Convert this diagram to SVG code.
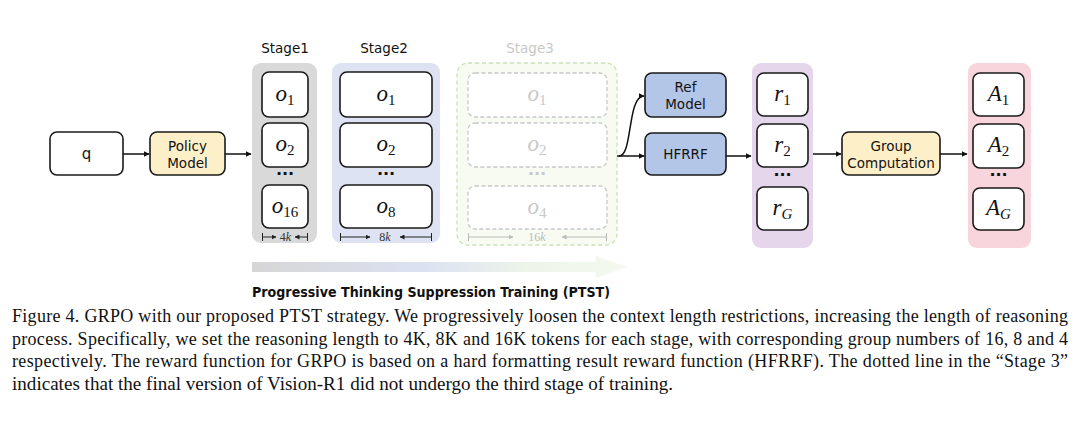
<svg xmlns="http://www.w3.org/2000/svg" width="1080" height="435" viewBox="0 0 1080 435">
<style>
.lbl{font-family:"DejaVu Sans","Liberation Sans",sans-serif;font-size:13.5px;fill:#111;text-anchor:middle}
.stg{font-family:"DejaVu Sans","Liberation Sans",sans-serif;font-size:13.5px;fill:#111;text-anchor:middle}
.box{fill:#fff;stroke:#1a1a1a;stroke-width:1.6}
.dbox{fill:#fff;stroke:#c8c8c8;stroke-width:1.3;stroke-dasharray:4 2.5}
.m{font-family:"Liberation Serif","DejaVu Serif",serif;font-size:23px;fill:#111;text-anchor:middle}
.mg{font-family:"Liberation Serif","DejaVu Serif",serif;font-size:23px;fill:#c8c8c8;text-anchor:middle}
.it{font-style:italic}
.sub{font-size:15px}
.dots{font-family:"DejaVu Sans",sans-serif;font-size:16px;font-weight:bold;fill:#111;text-anchor:middle}
.wl{font-family:"Liberation Serif",serif;font-size:12px;fill:#333;text-anchor:middle}
.cap{font-family:"Liberation Serif","Times New Roman",serif;font-size:18px;fill:#111}
.conn{stroke:#111;stroke-width:1.5;fill:none}
</style>
<defs>
<marker id="ah" viewBox="0 0 10 10" refX="9" refY="5" markerWidth="6" markerHeight="6" orient="auto" markerUnits="userSpaceOnUse"><path d="M0,0 L10,5 L0,10 z" fill="#111"/></marker>
<marker id="ahs" viewBox="0 0 10 10" refX="9" refY="5" markerWidth="5" markerHeight="5" orient="auto" markerUnits="userSpaceOnUse"><path d="M0,0 L10,5 L0,10 z" fill="#222"/></marker>
<marker id="ahg" viewBox="0 0 10 10" refX="9" refY="5" markerWidth="5" markerHeight="5" orient="auto" markerUnits="userSpaceOnUse"><path d="M0,0 L10,5 L0,10 z" fill="#bbb"/></marker>
<linearGradient id="prog" x1="252" y1="0" x2="627" y2="0" gradientUnits="userSpaceOnUse">
<stop offset="0" stop-color="#d6d6d6"/><stop offset="0.45" stop-color="#dce1f2"/><stop offset="0.75" stop-color="#eef5e8"/><stop offset="1" stop-color="#f3f9ef"/>
</linearGradient>
</defs>
<rect width="1080" height="435" fill="#fff"/>

<g id="q"><rect class="box" x="50" y="132" width="73" height="43" rx="7"/><text class="lbl" x="86.5" y="159" style="font-size:15px">q</text></g>
<g id="policy"><rect class="box" x="150" y="132" width="75" height="43" rx="7" style="fill:#fdf0c8"/><text class="lbl" x="187.5" y="151">Policy</text><text class="lbl" x="187.5" y="168">Model</text></g>

<g id="stage1">
<text class="stg" x="285" y="53">Stage1</text>
<rect x="252" y="63" width="65" height="180" rx="9" fill="#d9d9d9"/>
<rect class="box" x="262" y="72" width="46" height="45" rx="7"/><text class="m" x="285" y="101"><tspan class="it">o</tspan><tspan class="sub" dy="4">1</tspan></text>
<rect class="box" x="262" y="123" width="46" height="44" rx="7"/><text class="m" x="285" y="151"><tspan class="it">o</tspan><tspan class="sub" dy="4">2</tspan></text>
<text class="dots" x="285" y="179">···</text>
<rect class="box" x="262" y="185" width="46" height="43" rx="7"/><text class="m" x="285" y="213"><tspan class="it">o</tspan><tspan class="sub" dy="4">16</tspan></text>
<path d="M262.5,233 V241 M307.5,233 V241" stroke="#222" stroke-width="1"/>
<path d="M263,237 H276" stroke="#222" stroke-width="1" marker-end="url(#ahs)"/>
<path d="M307,237 H295" stroke="#222" stroke-width="1" marker-end="url(#ahs)"/>
<text class="wl" x="285.5" y="241">4<tspan class="it">k</tspan></text>
</g>

<g id="stage2">
<text class="stg" x="384" y="53">Stage2</text>
<rect x="332" y="63" width="108" height="180" rx="9" fill="#dee3f3"/>
<rect class="box" x="340" y="72" width="92" height="45" rx="7"/><text class="m" x="386" y="101"><tspan class="it">o</tspan><tspan class="sub" dy="4">1</tspan></text>
<rect class="box" x="340" y="123" width="92" height="44" rx="7"/><text class="m" x="386" y="151"><tspan class="it">o</tspan><tspan class="sub" dy="4">2</tspan></text>
<text class="dots" x="386" y="179">···</text>
<rect class="box" x="340" y="185" width="92" height="43" rx="7"/><text class="m" x="386" y="213"><tspan class="it">o</tspan><tspan class="sub" dy="4">8</tspan></text>
<path d="M340.5,233 V241 M431.5,233 V241" stroke="#222" stroke-width="1"/>
<path d="M341,237 H370" stroke="#222" stroke-width="1" marker-end="url(#ahs)"/>
<path d="M431,237 H400" stroke="#222" stroke-width="1" marker-end="url(#ahs)"/>
<text class="wl" x="385" y="241">8<tspan class="it">k</tspan></text>
</g>

<g id="stage3">
<text class="stg" x="530" y="53" style="fill:#c8c8c8">Stage3</text>
<rect x="457" y="63" width="160" height="182" rx="11" fill="#f7fbf2" stroke="#c9e2b4" stroke-width="1.3" stroke-dasharray="4 3"/>
<rect class="dbox" x="468" y="73" width="139" height="44" rx="7"/><text class="mg" x="537" y="101"><tspan class="it">o</tspan><tspan class="sub" dy="4">1</tspan></text>
<rect class="dbox" x="468" y="123" width="139" height="44" rx="7"/><text class="mg" x="537" y="151"><tspan class="it">o</tspan><tspan class="sub" dy="4">2</tspan></text>
<text class="dots" x="537" y="179" style="fill:#c8c8c8">···</text>
<rect class="dbox" x="468" y="186" width="139" height="43" rx="7"/><text class="mg" x="537" y="214"><tspan class="it">o</tspan><tspan class="sub" dy="4">4</tspan></text>
<path d="M468.5,233 V241 M606.5,233 V241" stroke="#bbb" stroke-width="1"/>
<path d="M469,237 H513" stroke="#bbb" stroke-width="1" marker-end="url(#ahg)"/>
<path d="M606,237 H562" stroke="#bbb" stroke-width="1" marker-end="url(#ahg)"/>
<text class="wl" x="537" y="241" style="fill:#bbb">16<tspan class="it">k</tspan></text>
</g>

<g id="ref"><rect class="box" x="645" y="73" width="81" height="44" rx="7" style="fill:#b4c6e7"/><text class="lbl" x="685.5" y="92">Ref</text><text class="lbl" x="685.5" y="109">Model</text></g>
<g id="hfrrf"><rect class="box" x="645" y="133" width="81" height="42" rx="7" style="fill:#b4c6e7"/><text class="lbl" x="685.5" y="159">HFRRF</text></g>

<g id="rewards">
<rect x="752" y="63" width="61" height="185" rx="9" fill="#e5d6ec"/>
<rect class="box" x="757" y="73" width="51" height="43" rx="7"/><text class="m" x="782.5" y="101"><tspan class="it">r</tspan><tspan class="sub" dy="4">1</tspan></text>
<rect class="box" x="757" y="124" width="51" height="43" rx="7"/><text class="m" x="782.5" y="152"><tspan class="it">r</tspan><tspan class="sub" dy="4">2</tspan></text>
<text class="dots" x="782.5" y="180">···</text>
<rect class="box" x="757" y="187" width="51" height="43" rx="7"/><text class="m" x="782.5" y="215"><tspan class="it">r</tspan><tspan class="sub it" dy="4">G</tspan></text>
</g>

<g id="group"><rect class="box" x="842" y="132" width="98" height="43" rx="7" style="fill:#fdf0c8"/><text class="lbl" x="891" y="151">Group</text><text class="lbl" x="891" y="168">Computation</text></g>

<g id="advantages">
<rect x="968" y="63" width="63" height="185" rx="9" fill="#f8d5dd"/>
<rect class="box" x="973" y="73" width="51" height="43" rx="7"/><text class="m" x="998.5" y="101"><tspan class="it">A</tspan><tspan class="sub" dy="4">1</tspan></text>
<rect class="box" x="973" y="124" width="51" height="44" rx="7"/><text class="m" x="998.5" y="152"><tspan class="it">A</tspan><tspan class="sub" dy="4">2</tspan></text>
<text class="dots" x="998.5" y="180">···</text>
<rect class="box" x="973" y="188" width="51" height="42" rx="7"/><text class="m" x="998.5" y="215"><tspan class="it">A</tspan><tspan class="sub it" dy="4">G</tspan></text>
</g>

<g id="connectors">
<path class="conn" d="M123,154 H149" marker-end="url(#ah)"/>
<path class="conn" d="M225,154 H251" marker-end="url(#ah)"/>
<path class="conn" d="M617,156 H644" marker-end="url(#ah)"/>
<path class="conn" d="M619,156 C633,156 627,96 644,96" marker-end="url(#ah)"/>
<path class="conn" d="M726,156 H751" marker-end="url(#ah)"/>
<path class="conn" d="M813,154 H841" marker-end="url(#ah)"/>
<path class="conn" d="M940,154 H967" marker-end="url(#ah)"/>
</g>

<g id="progress">
<polygon points="252,262 596,262 596,256 627,267 596,278 596,272 252,272" fill="url(#prog)"/>
<text x="252" y="297" textLength="358" lengthAdjust="spacingAndGlyphs" style="font-family:'DejaVu Sans',sans-serif;font-size:14.5px;font-weight:bold;fill:#111">Progressive Thinking Suppression Training (PTST)</text>
</g>

<g id="caption">
<text class="cap" x="12" y="322" textLength="1056" lengthAdjust="spacing">Figure 4. GRPO with our proposed PTST strategy. We progressively loosen the context length restrictions, increasing the length of reasoning</text>
<text class="cap" x="12" y="344.5" textLength="1056" lengthAdjust="spacing">process. Specifically, we set the reasoning length to 4K, 8K and 16K tokens for each stage, with corresponding group numbers of 16, 8 and 4</text>
<text class="cap" x="12" y="367" textLength="1056" lengthAdjust="spacing">respectively. The reward function for GRPO is based on a hard formatting result reward function (HFRRF). The dotted line in the “Stage 3”</text>
<text class="cap" x="12" y="389.5" textLength="661" lengthAdjust="spacingAndGlyphs">indicates that the final version of Vision-R1 did not undergo the third stage of training.</text>
</g>
</svg>
